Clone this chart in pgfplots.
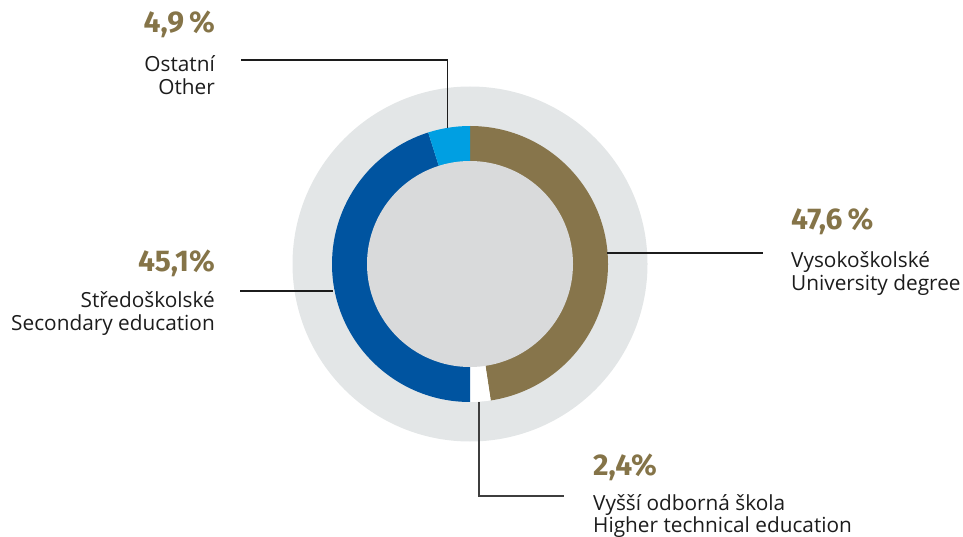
\documentclass[border=0pt]{standalone}
\usepackage{fontspec}
\setmainfont{Open Sans}
\newfontfamily\pctfont{Fira Sans}
\usepackage{pgfplots}
\usepackage{pgfplotstable}
\pgfplotsset{compat=1.18}
\definecolor{cbrown}{HTML}{87754B}
\definecolor{cblue}{HTML}{0054A0}
\definecolor{clblue}{HTML}{009FE2}
\definecolor{cgap}{HTML}{FFFFFF}
\definecolor{outergray}{HTML}{E3E6E7}
\definecolor{innergray}{HTML}{D9DADB}
\definecolor{txt}{HTML}{1C1C1C}
\definecolor{pct}{HTML}{857448}

% shares (percent), clockwise from 12 o'clock
\pgfplotstableread{
value
47.6
2.4
45.1
4.9
}\shares

% compute cumulative angles (canvas angles, clockwise from 90 deg)
\pgfplotstablegetelem{0}{value}\of\shares \let\vA\pgfplotsretval
\pgfplotstablegetelem{1}{value}\of\shares \let\vB\pgfplotsretval
\pgfplotstablegetelem{2}{value}\of\shares \let\vC\pgfplotsretval
\pgfplotstablegetelem{3}{value}\of\shares \let\vD\pgfplotsretval
\pgfmathsetmacro\aA{90}
\pgfmathsetmacro\aB{90-3.6*\vA}
\pgfmathsetmacro\aC{\aB-3.6*\vB}
\pgfmathsetmacro\aD{\aC-3.6*\vC}
\pgfmathsetmacro\aE{\aD-3.6*\vD}

\newcommand\donutwedge[3]{% color, start, end
  \fill[#1] (axis cs:470,264) -- ++(#2:138pt) arc[start angle=#2, end angle=#3, radius=138pt] -- cycle;}

\begin{document}
\begin{tikzpicture}
\begin{axis}[
  scale only axis, width=963pt, height=537pt,
  xmin=0, xmax=963, ymin=0, ymax=537, y dir=reverse,
  hide axis, clip=false,
]
\path (axis cs:0,0) rectangle (axis cs:963,537);
\fill[outergray] (axis cs:470,264) circle[radius=177.5pt];
\donutwedge{cbrown}{\aA}{\aB}
\donutwedge{cgap}{\aB}{\aC}
\donutwedge{cblue}{\aC}{\aD}
\donutwedge{clblue}{\aD}{\aE}
\fill[innergray] (axis cs:470,264) circle[radius=103pt];

% leader lines
\draw[txt, line width=1.2pt] (axis cs:241,60) -- (axis cs:447.5,60) -- (axis cs:447.5,128);
\draw[txt, line width=1.2pt] (axis cs:240,291) -- (axis cs:333,291);
\draw[txt, line width=1.2pt] (axis cs:607,253) -- (axis cs:763,253);
\draw[txt!85!white, line width=1.2pt] (axis cs:479,402) -- (axis cs:479,496) -- (axis cs:564,496);

% labels
\begin{scope}[every node/.style={inner sep=0pt, text=txt, font=\fontsize{20.8}{22}\selectfont}]
\node[anchor=base east] at (axis cs:215,72) {Ostatní};
\node[anchor=base east] at (axis cs:215,95) {Other};
\node[anchor=base east] at (axis cs:215,307) {Středoškolské};
\node[anchor=base east] at (axis cs:215,330) {Secondary education};
\node[anchor=base west] at (axis cs:791,268) {Vysokoškolské};
\node[anchor=base west] at (axis cs:791,290) {University degree};
\node[anchor=base west] at (axis cs:593,510) {Vyšší odborná škola};
\node[anchor=base west] at (axis cs:593,532) {Higher technical education};
\end{scope}
\begin{scope}[every node/.style={inner sep=0pt, text=pct, font=\pctfont\bfseries\fontsize{30}{31}\selectfont}]
\node[anchor=base east] at (axis cs:215,33) {4,9\,\%};
\node[anchor=base east] at (axis cs:215,272) {45,1\%};
\node[anchor=base west] at (axis cs:791,230) {47,6\,\%};
\node[anchor=base west] at (axis cs:593,475) {2,4\%};
\end{scope}
\end{axis}
\end{tikzpicture}
\end{document}
